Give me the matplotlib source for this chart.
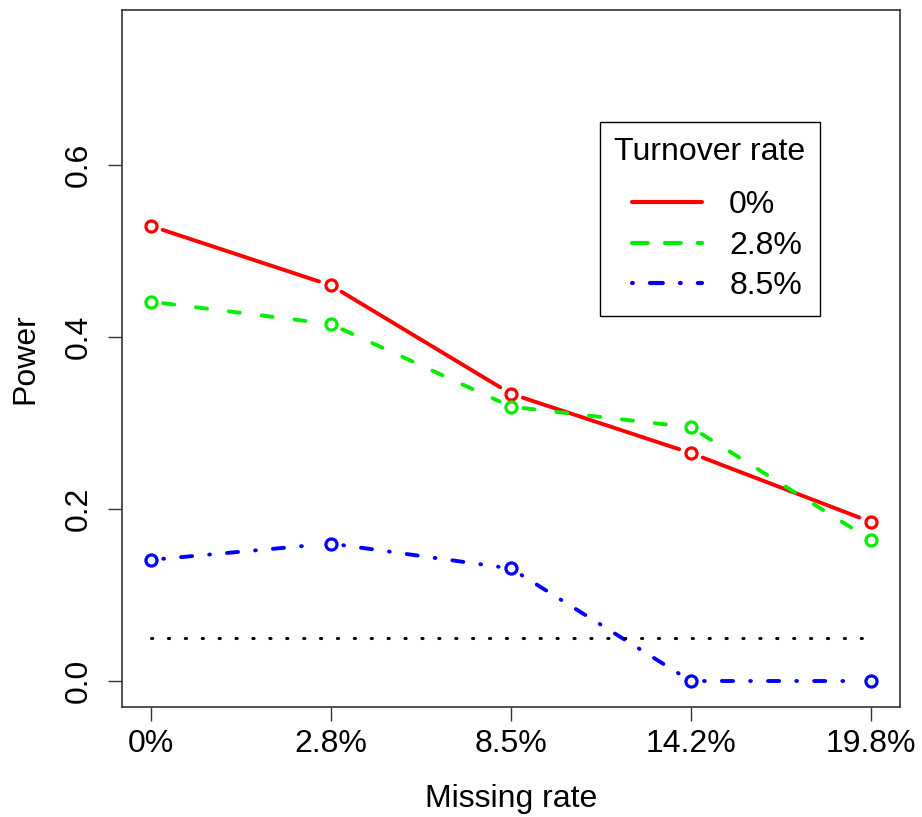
import numpy as np
import matplotlib
matplotlib.use("Agg")
import matplotlib.pyplot as plt
from matplotlib.lines import Line2D
from matplotlib.legend_handler import HandlerLine2D

# data
missing = ["0%", "2.8%", "8.5%", "14.2%", "19.8%"]
turnover = ["0%", "2.8%", "8.5%"]
power_0 = [0.529, 0.460, 0.334, 0.265, 0.185]
power_28 = [0.441, 0.415, 0.319, 0.295, 0.164]
power_85 = [0.141, 0.160, 0.131, 0.0, 0.0]
alpha = 0.05

plt.rcParams['font.family'] = ['Liberation Sans', 'DejaVu Sans']
fs = 23

fig = plt.figure(figsize=(9.22, 8.17), dpi=100)
ax = fig.add_axes([0.1323, 0.1346, 0.8438, 0.8532])
ax.set_xlim(0.84, 5.16)
ax.set_ylim(-0.03, 0.78)

x = list(range(1, len(missing) + 1))
lw = 2.8
colors = ['#ff0000', '#00ee00', '#0000ff']
styles = ['-', (0, (2.86, 5.64)), (0, (0.2, 4.4, 2.86, 4.4))]


def type_b(ax, xs, ys, color, ls, gap=12.5):
    # R type="b": segments stop short of the points, pattern restarts per segment
    pts = ax.transData.transform(np.column_stack([xs, ys]))
    inv = ax.transData.inverted()
    for p0, p1 in zip(pts[:-1], pts[1:]):
        d = p1 - p0
        u = d / np.hypot(*d)
        seg = inv.transform([p0 + u * gap, p1 - u * gap])
        ax.plot(seg[:, 0], seg[:, 1], color=color, linestyle=ls, linewidth=lw,
                dash_capstyle='round', solid_capstyle='round')
    ax.plot(xs, ys, linestyle='none', marker='o', markersize=8,
            markerfacecolor='white', markeredgecolor=color, markeredgewidth=2.3)


for ys, c, ls in zip([power_0, power_28, power_85], colors, styles):
    type_b(ax, x, ys, c, ls)

# nominal level
ax.plot([x[0], x[-1]], [alpha, alpha], color='black', linestyle=(0, (0.4, 5.13)),
        linewidth=2.2, dash_capstyle='round')

ax.set_xticks(x)
ax.set_xticklabels(missing)
ax.set_yticks([0.0, 0.2, 0.4, 0.6])
ax.set_yticklabels(["0.0", "0.2", "0.4", "0.6"], rotation=90, va='center')
ax.tick_params(direction='out', length=10, width=1, colors='#333333',
               labelcolor='black', pad=6, labelsize=fs)
ax.tick_params(axis='y', pad=10)

for s in ax.spines.values():
    s.set_color('#333333')
    s.set_linewidth(1.2)

ax.set_xlabel("Missing rate", fontsize=fs, labelpad=18)
ax.set_ylabel("Power", fontsize=fs, labelpad=17)

# legend proxies without markers, thicker like the R legend
leg_styles = ['-', (0, (3.8, 4.1)), (0, (0.2, 4.1, 3.1, 4.1))]
proxies = [Line2D([], [], color=c, linestyle=ls, linewidth=3.0,
                  dash_capstyle='round', solid_capstyle='round')
           for c, ls in zip(colors, leg_styles)]
leg = ax.legend(proxies, turnover, title="Turnover rate", loc='upper left',
                bbox_to_anchor=(0.614, 0.839), borderaxespad=0, fancybox=False,
                edgecolor='black', framealpha=1, handlelength=2.66,
                handletextpad=0.85, borderpad=0.45, labelspacing=0.33,
                fontsize=fs, title_fontsize=fs,
                handler_map={Line2D: HandlerLine2D(xpad=0.48)})
leg.get_frame().set_linewidth(1.0)
leg._legend_box.sep = 17

fig.savefig("out.png", dpi=100)
